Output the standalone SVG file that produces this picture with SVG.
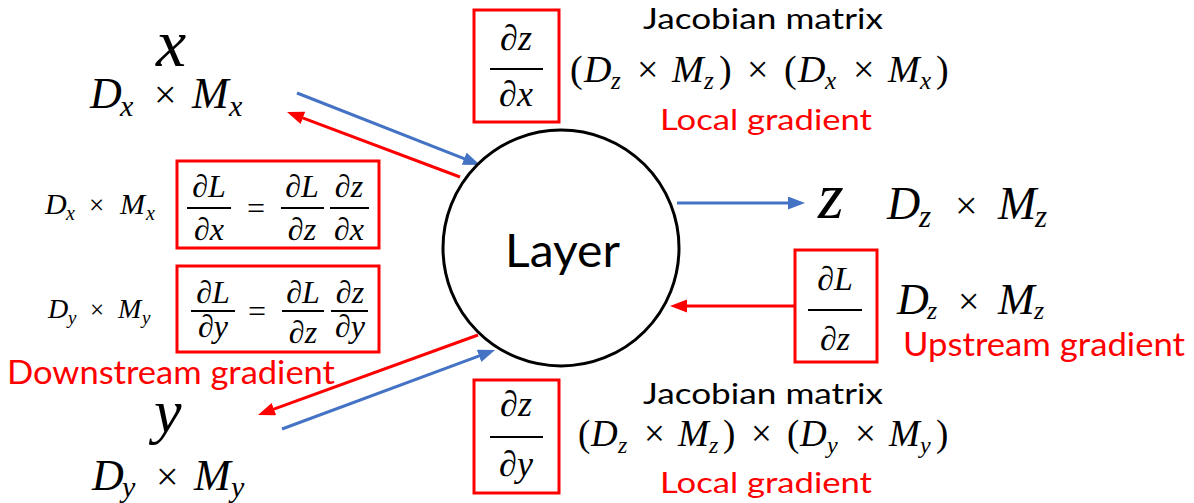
<svg xmlns="http://www.w3.org/2000/svg" width="1194" height="503" viewBox="0 0 1194 503">
<style>
.m{font-family:"Liberation Serif","DejaVu Serif",serif;font-style:italic;fill:#000}
.u{font-style:normal}
.box{fill:none;stroke:#FF0000;stroke-width:3}
.bar{stroke:#000;stroke-width:1.8}
.lbl{font-family:Lato,"Liberation Sans",sans-serif}
.red{fill:#FF0000}
.blk{fill:#000}
.fw{stroke:#4472C4;stroke-width:3;fill:none}
.bw{stroke:#FF0000;stroke-width:3;fill:none}
</style>
<defs>
<marker id="ab" markerUnits="userSpaceOnUse" markerWidth="19" markerHeight="15" refX="6" refY="6.5" orient="auto" viewBox="0 0 19 15">
<path d="M0,0 L17,6.5 L0,13 z" fill="#4472C4"/>
</marker>
<marker id="ar" markerUnits="userSpaceOnUse" markerWidth="19" markerHeight="15" refX="6" refY="6.5" orient="auto" viewBox="0 0 19 15">
<path d="M0,0 L17,6.5 L0,13 z" fill="#FF0000"/>
</marker>
</defs>

<g id="connectors">
<line class="fw" x1="297" y1="93" x2="469.8" y2="160.9" marker-end="url(#ab)"/>
<line class="bw" x1="460" y1="177" x2="297.3" y2="115.8" marker-end="url(#ar)"/>
<line class="fw" x1="677" y1="203" x2="794" y2="203" marker-end="url(#ab)"/>
<line class="bw" x1="795" y1="306" x2="681" y2="306" marker-end="url(#ar)"/>
<line class="bw" x1="478" y1="335" x2="268.3" y2="411.2" marker-end="url(#ar)"/>
<line class="fw" x1="282" y1="429" x2="484.7" y2="353.8" marker-end="url(#ab)"/>
</g>

<g id="layer">
<circle cx="561" cy="248" r="118" fill="none" stroke="#000" stroke-width="3"/>
<text class="lbl blk" x="505" y="267" font-size="46" textLength="115" lengthAdjust="spacingAndGlyphs">Layer</text>
</g>

<g id="x-node">
<text class="m" x="156" y="66" font-size="68">x</text>
<text class="m" font-size="44"><tspan x="90" y="108">D</tspan><tspan x="120" y="116" font-size="30">x</tspan><tspan class="u" x="154" y="108" font-size="40">×</tspan><tspan x="192" y="108">M</tspan><tspan x="229" y="116" font-size="30">x</tspan></text>
</g>

<g id="dzdx">
<rect class="box" x="474" y="10" width="85" height="112"/>
<text class="m" x="516" y="50" font-size="36" text-anchor="middle">∂z</text>
<line class="bar" x1="490" y1="69" x2="543" y2="69"/>
<text class="m" x="516" y="106" font-size="36" text-anchor="middle">∂x</text>
<text class="lbl blk" x="763" y="29" font-size="28" text-anchor="middle" textLength="240" lengthAdjust="spacingAndGlyphs">Jacobian matrix</text>
<text class="m" font-size="38"><tspan class="u" x="570" y="82">(</tspan><tspan x="584" y="82">D</tspan><tspan x="611" y="89" font-size="25">z</tspan><tspan class="u" x="637" y="82">×</tspan><tspan x="672" y="82">M</tspan><tspan x="704" y="89" font-size="25">z</tspan><tspan class="u" x="719" y="82">)</tspan><tspan class="u" x="747" y="82">×</tspan><tspan class="u" x="784" y="82">(</tspan><tspan x="798" y="82">D</tspan><tspan x="825" y="89" font-size="25">x</tspan><tspan class="u" x="853" y="82">×</tspan><tspan x="888" y="82">M</tspan><tspan x="920" y="89" font-size="25">x</tspan><tspan class="u" x="936" y="82">)</tspan></text>
<text class="lbl red" x="766" y="130" font-size="28" text-anchor="middle" textLength="212" lengthAdjust="spacingAndGlyphs">Local gradient</text>
</g>

<g id="dLdx">
<text class="m" font-size="30"><tspan x="45" y="214">D</tspan><tspan x="66" y="220" font-size="20">x</tspan><tspan class="u" x="89" y="214" font-size="27">×</tspan><tspan x="120" y="214">M</tspan><tspan x="146" y="220" font-size="20">x</tspan></text>
<rect class="box" x="177" y="161" width="202" height="87"/>
<text class="m" x="209" y="197" font-size="32" text-anchor="middle">∂L</text>
<line class="bar" x1="187" y1="208" x2="231" y2="208"/>
<text class="m" x="209" y="240" font-size="32" text-anchor="middle">∂x</text>
<text class="m u" x="256" y="219" font-size="32" text-anchor="middle">=</text>
<text class="m" x="302" y="197" font-size="32" text-anchor="middle">∂L</text>
<line class="bar" x1="281" y1="208" x2="324" y2="208"/>
<text class="m" x="302" y="240" font-size="32" text-anchor="middle">∂z</text>
<text class="m" x="349" y="197" font-size="32" text-anchor="middle">∂z</text>
<line class="bar" x1="330" y1="208" x2="369" y2="208"/>
<text class="m" x="349" y="240" font-size="32" text-anchor="middle">∂x</text>
</g>

<g id="dLdy">
<text class="m" font-size="28"><tspan x="48" y="318">D</tspan><tspan x="68" y="324" font-size="19">y</tspan><tspan class="u" x="90" y="318" font-size="25">×</tspan><tspan x="118" y="318">M</tspan><tspan x="142" y="324" font-size="19">y</tspan></text>
<rect class="box" x="177" y="266" width="202" height="86"/>
<text class="m" x="213" y="303" font-size="32" text-anchor="middle">∂L</text>
<line class="bar" x1="191" y1="311" x2="235" y2="311"/>
<text class="m" x="213" y="337" font-size="32" text-anchor="middle">∂y</text>
<text class="m u" x="257" y="322" font-size="32" text-anchor="middle">=</text>
<text class="m" x="303" y="303" font-size="32" text-anchor="middle">∂L</text>
<line class="bar" x1="282" y1="311" x2="324" y2="311"/>
<text class="m" x="303" y="343" font-size="32" text-anchor="middle">∂z</text>
<text class="m" x="350" y="303" font-size="32" text-anchor="middle">∂z</text>
<line class="bar" x1="331" y1="311" x2="368" y2="311"/>
<text class="m" x="350" y="337" font-size="32" text-anchor="middle">∂y</text>
<text class="lbl red" x="7" y="384" font-size="33" textLength="328" lengthAdjust="spacingAndGlyphs">Downstream gradient</text>
</g>

<g id="y-node">
<text class="m" x="154" y="432" font-size="62">y</text>
<text class="m" font-size="44"><tspan x="92" y="490">D</tspan><tspan x="122" y="497" font-size="30">y</tspan><tspan class="u" x="156" y="490" font-size="40">×</tspan><tspan x="194" y="490">M</tspan><tspan x="231" y="497" font-size="30">y</tspan></text>
</g>

<g id="z-node">
<text class="m" x="818" y="218" font-size="66">z</text>
<text class="m" font-size="46"><tspan x="887" y="219">D</tspan><tspan x="919" y="227" font-size="31">z</tspan><tspan class="u" x="955" y="219" font-size="40">×</tspan><tspan x="998" y="219">M</tspan><tspan x="1035" y="227" font-size="31">z</tspan></text>
</g>

<g id="dLdz">
<rect class="box" x="795" y="250" width="82" height="112"/>
<text class="m" x="835" y="290" font-size="34" text-anchor="middle">∂L</text>
<line class="bar" x1="808" y1="310" x2="862" y2="310"/>
<text class="m" x="835" y="350" font-size="34" text-anchor="middle">∂z</text>
<text class="m" font-size="44"><tspan x="897" y="314">D</tspan><tspan x="927" y="319" font-size="26">z</tspan><tspan class="u" x="958" y="314" font-size="38">×</tspan><tspan x="998" y="314">M</tspan><tspan x="1034" y="319" font-size="26">z</tspan></text>
<text class="lbl red" x="903" y="356" font-size="33" textLength="282" lengthAdjust="spacingAndGlyphs">Upstream gradient</text>
</g>

<g id="dzdy">
<rect class="box" x="474" y="380" width="85" height="113"/>
<text class="m" x="516" y="416" font-size="36" text-anchor="middle">∂z</text>
<line class="bar" x1="490" y1="437" x2="543" y2="437"/>
<text class="m" x="516" y="476" font-size="36" text-anchor="middle">∂y</text>
<text class="lbl blk" x="763" y="404" font-size="28" text-anchor="middle" textLength="240" lengthAdjust="spacingAndGlyphs">Jacobian matrix</text>
<text class="m" font-size="37"><tspan class="u" x="578" y="446">(</tspan><tspan x="591" y="446">D</tspan><tspan x="618" y="453" font-size="24">z</tspan><tspan class="u" x="644" y="446">×</tspan><tspan x="678" y="446">M</tspan><tspan x="709" y="453" font-size="24">z</tspan><tspan class="u" x="723" y="446">)</tspan><tspan class="u" x="751" y="446">×</tspan><tspan class="u" x="787" y="446">(</tspan><tspan x="800" y="446">D</tspan><tspan x="827" y="453" font-size="24">y</tspan><tspan class="u" x="855" y="446">×</tspan><tspan x="889" y="446">M</tspan><tspan x="920" y="453" font-size="24">y</tspan><tspan class="u" x="936" y="446">)</tspan></text>
<text class="lbl red" x="766" y="493" font-size="28" text-anchor="middle" textLength="212" lengthAdjust="spacingAndGlyphs">Local gradient</text>
</g>
</svg>
